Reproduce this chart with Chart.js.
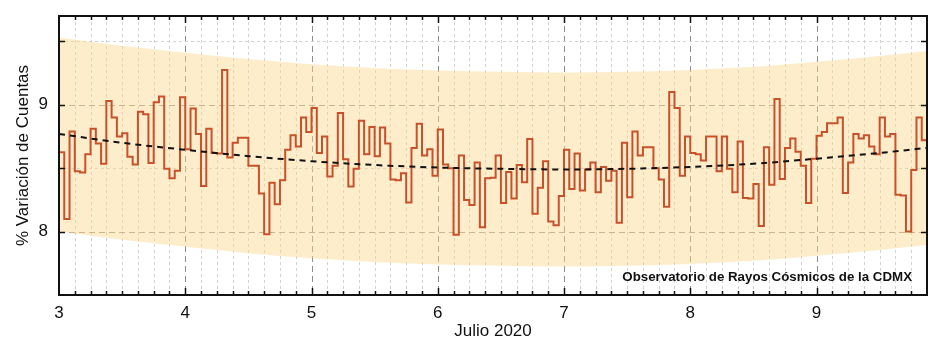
<!DOCTYPE html>
<html>
<head>
<meta charset="utf-8">
<script src="https://cdn.jsdelivr.net/npm/chart.js@4.4.0/dist/chart.umd.min.js"></script>
<style>
  html, body { margin: 0; padding: 0; background: #fff; }
</style>
</head>
<body>
<canvas id="graficoCuentas" width="939" height="343"></canvas>
<script>
(function () {
  'use strict';

  // --- Datos: variación horaria de cuentas, desde el 3 de julio 00:00 ---
  const diaInicio = 3;
  const diaFin = 9.875;
  const horasPorDia = 24;

  const variacion = [
    8.625, 8.10, 8.79, 8.475, 8.465, 8.61, 8.81, 8.695, 8.535, 9.03, 8.90, 8.75,
    8.775, 8.59, 8.53, 8.945, 8.925, 8.54, 9.02, 9.065, 8.495, 8.42, 8.48, 9.06,
    8.65, 8.97, 8.77, 8.36, 8.81, 8.62, 8.615, 9.275, 8.585, 8.70, 8.74, 8.74,
    8.52, 8.52, 8.30, 7.98, 8.385, 8.215, 8.405, 8.645, 8.76, 8.67, 8.90, 8.785,
    8.975, 8.62, 8.75, 8.435, 8.52, 8.935, 8.57, 8.355, 8.495, 8.875, 8.61, 8.825,
    8.595, 8.82, 8.695, 8.41, 8.405, 8.46, 8.23, 8.66, 8.85, 8.60, 8.65, 8.44,
    8.805, 8.53, 8.50, 7.975, 8.60, 8.25, 8.21, 8.545, 8.035, 8.42, 8.425, 8.60,
    8.225, 8.47, 8.26, 8.525, 8.39, 8.73, 8.14, 8.345, 8.555, 8.08, 8.05, 8.28,
    8.645, 8.335, 8.615, 8.325, 8.49, 8.545, 8.31, 8.51, 8.40, 8.48, 8.07, 8.70,
    8.27, 8.79, 8.60, 8.665, 8.665, 8.50, 8.41, 8.195, 9.10, 8.975, 8.44, 8.75,
    8.62, 8.61, 8.56, 8.75, 8.75, 8.475, 8.75, 8.495, 8.31, 8.71, 8.265, 8.26,
    8.375, 8.045, 8.665, 8.37, 9.045, 8.415, 8.66, 8.735, 8.63, 8.52, 8.225, 8.575,
    8.755, 8.785, 8.855, 8.855, 8.90, 8.305, 8.545, 8.77, 8.735, 8.76, 8.67, 8.61,
    8.90, 8.75, 8.77, 8.29, 8.285, 8.00, 8.485, 8.90, 8.72
  ];

  // Tendencia y banda (cada medio día)
  const diasTendencia = [3, 3.5, 4, 4.5, 5, 5.5, 6, 6.5, 7, 7.5, 8, 8.5, 9, 9.5, 9.875];
  const tendencia     = [8.77, 8.70, 8.645, 8.595, 8.555, 8.525, 8.505, 8.495, 8.49, 8.495, 8.51, 8.535, 8.575, 8.62, 8.66];
  const bandaSuperior = [9.53, 9.465, 9.41, 9.36, 9.32, 9.29, 9.27, 9.26, 9.255, 9.26, 9.275, 9.30, 9.34, 9.385, 9.425];
  const bandaInferior = [8.00, 7.935, 7.88, 7.83, 7.79, 7.76, 7.74, 7.73, 7.725, 7.73, 7.745, 7.77, 7.81, 7.855, 7.895];

  const ticksX = [3, 4, 5, 6, 7, 8, 9];
  const ticksY = [8, 9];
  const marcasY = [8, 8.5, 9, 9.5];

  const leyenda = 'Observatorio de Rayos Cósmicos de la CDMX';

  Chart.defaults.font.family = '"Liberation Sans", Arial, sans-serif';
  Chart.defaults.color = '#111';

  const puntosCuentas = variacion.map((v, i) => ({ x: diaInicio + i / horasPorDia, y: v }));
  puntosCuentas.push({ x: diaFin, y: variacion[variacion.length - 1] });

  const aPuntos = (vals) => vals.map((v, i) => ({ x: diasTendencia[i], y: v }));

  // --- Rejilla punteada (mayor por día, menor cada 3 horas) ---
  const rejilla = {
    id: 'rejilla',
    beforeDatasetsDraw(chart) {
      const { ctx, chartArea: a, scales: { x, y } } = chart;
      ctx.save();
      ctx.lineWidth = 1;
      const pasos = Math.round((x.max - x.min) * 8);
      for (let k = 1; k < pasos; k++) {
        const mayor = k % 8 === 0;
        const px = Math.round(x.getPixelForValue(x.min + k / 8)) + 0.5;
        ctx.strokeStyle = mayor ? '#8c8c8c' : '#d2d2d2';
        ctx.setLineDash(mayor ? [6, 4] : [3, 3]);
        ctx.beginPath(); ctx.moveTo(px, a.top); ctx.lineTo(px, a.bottom); ctx.stroke();
      }
      marcasY.forEach(v => {
        const mayor = Number.isInteger(v);
        const py = Math.round(y.getPixelForValue(v)) + 0.5;
        ctx.strokeStyle = mayor ? '#a39a8c' : '#d2d2d2';
        ctx.setLineDash(mayor ? [6, 4] : [3, 3]);
        ctx.beginPath(); ctx.moveTo(a.left, py); ctx.lineTo(a.right, py); ctx.stroke();
      });
      ctx.restore();
    },
    afterDraw(chart) {
      const { ctx, chartArea: a, scales: { x, y } } = chart;
      ctx.save();
      ctx.strokeStyle = '#111';
      ctx.lineWidth = 1.5;
      ctx.setLineDash([]);
      // marcas hacia dentro arriba y abajo
      const pasos = Math.round((x.max - x.min) * 8);
      for (let k = 1; k < pasos; k++) {
        const largo = k % 8 === 0 ? 7 : 4;
        const px = Math.round(x.getPixelForValue(x.min + k / 8)) + 0.5;
        ctx.beginPath();
        ctx.moveTo(px, a.bottom); ctx.lineTo(px, a.bottom - largo);
        ctx.moveTo(px, a.top); ctx.lineTo(px, a.top + largo);
        ctx.stroke();
      }
      marcasY.forEach(v => {
        const py = Math.round(y.getPixelForValue(v)) + 0.5;
        ctx.beginPath();
        ctx.moveTo(a.left, py); ctx.lineTo(a.left + 6, py);
        ctx.moveTo(a.right, py); ctx.lineTo(a.right - 6, py);
        ctx.stroke();
      });
      // marco
      ctx.lineWidth = 2;
      ctx.strokeRect(a.left, a.top, a.right - a.left, a.bottom - a.top);
      // leyenda del observatorio
      ctx.fillStyle = '#111';
      ctx.font = 'bold 13.3px "Liberation Sans", Arial, sans-serif';
      ctx.textAlign = 'right';
      ctx.textBaseline = 'middle';
      ctx.fillText(leyenda, a.right - 15, a.bottom - 18);
      ctx.restore();
    }
  };

  const sinRelleno = s => { s.paddingTop = 0; s.paddingBottom = 0; s.paddingLeft = 0; s.paddingRight = 0; };

  const ctx = document.getElementById('graficoCuentas').getContext('2d');
  new Chart(ctx, {
    type: 'line',
    data: {
      datasets: [
        {
          label: 'Banda superior',
          data: aPuntos(bandaSuperior),
          borderWidth: 0,
          pointRadius: 0,
          backgroundColor: 'rgba(252, 214, 140, 0.45)',
          fill: '+1',
          cubicInterpolationMode: 'monotone',
          order: 3
        },
        {
          label: 'Banda inferior',
          data: aPuntos(bandaInferior),
          borderWidth: 0,
          pointRadius: 0,
          fill: false,
          cubicInterpolationMode: 'monotone',
          order: 4
        },
        {
          label: 'Cuentas',
          data: puntosCuentas,
          stepped: 'before',
          borderColor: '#c8502a',
          borderWidth: 2,
          pointRadius: 0,
          fill: false,
          order: 1
        },
        {
          label: 'Tendencia',
          data: aPuntos(tendencia),
          borderColor: '#111',
          borderWidth: 2,
          borderDash: [6, 5],
          pointRadius: 0,
          fill: false,
          cubicInterpolationMode: 'monotone',
          order: 0
        }
      ]
    },
    options: {
      responsive: false,
      animation: false,
      devicePixelRatio: 1,
      layout: { padding: { left: 0, right: 12, top: 16, bottom: 0 } },
      plugins: { legend: { display: false }, tooltip: { enabled: false } },
      scales: {
        x: {
          type: 'linear',
          min: diaInicio,
          max: diaFin,
          afterFit: s => { s.height = 48; sinRelleno(s); },
          afterBuildTicks: s => { s.ticks = ticksX.map(v => ({ value: v })); },
          grid: { display: false, drawTicks: false },
          border: { display: false },
          ticks: { font: { size: 17 }, padding: 8, maxRotation: 0, autoSkip: false },
          title: { display: true, text: 'Julio 2020', font: { size: 17 }, padding: { top: 0, bottom: 1 } }
        },
        y: {
          min: 7.5,
          max: 9.7,
          afterFit: s => { s.width = 59; sinRelleno(s); },
          afterBuildTicks: s => { s.ticks = ticksY.map(v => ({ value: v })); },
          grid: { display: false, drawTicks: false },
          border: { display: false },
          ticks: { font: { size: 17 }, padding: 11 },
          title: { display: true, text: '% Variación de Cuentas', font: { size: 17 }, padding: { top: 13, bottom: 0 } }
        }
      }
    },
    plugins: [rejilla]
  });
})();
</script>
</body>
</html>
